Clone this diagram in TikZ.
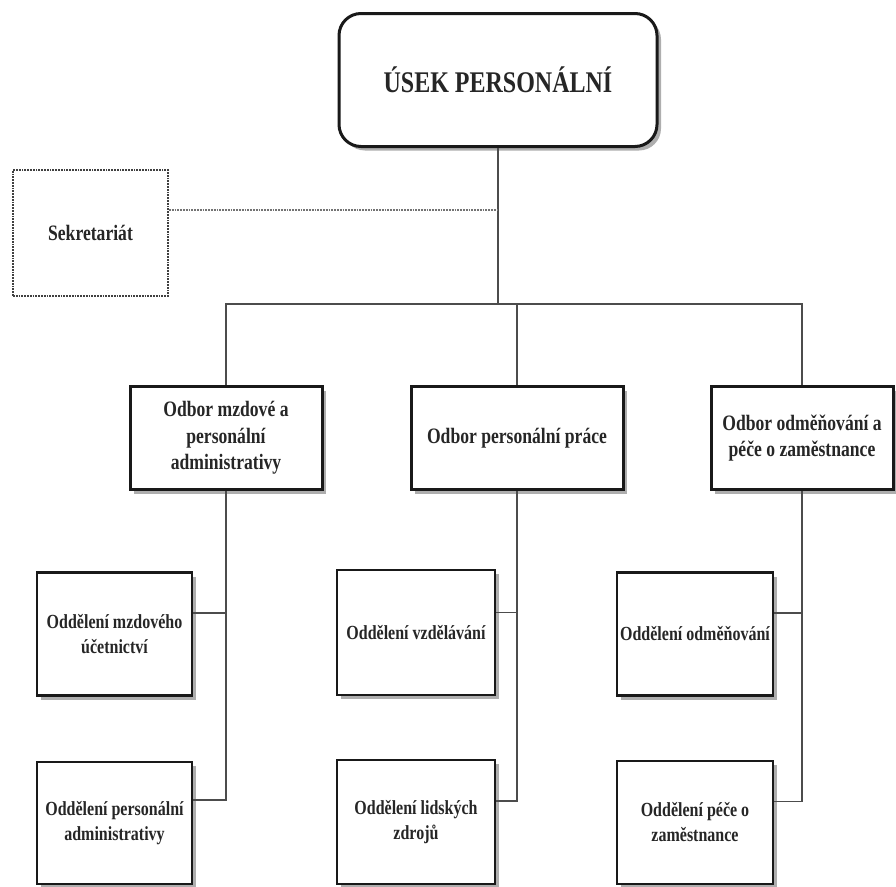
\documentclass[tikz,border=0pt]{standalone}
\usepackage{fontspec}
\setmainfont[FakeStretch=0.8]{Liberation Serif}
\usetikzlibrary{shadows}
\begin{document}
\begin{tikzpicture}[x=1pt,y=-1pt,
 every node/.style={text=black!85, align=center, inner sep=0pt},
 boxshadow/.style={drop shadow={shadow xshift=4pt,shadow yshift=-4pt,fill=black!45,opacity=0.7}},
 topbox/.style={draw=black!90, line width=3pt, rounded corners=22pt, fill=white, boxshadow, minimum width=318pt, minimum height=133pt, font=\bfseries\fontsize{30}{36}\selectfont},
 midbox/.style={draw=black!90, line width=3pt, fill=white, boxshadow, minimum height=103pt, font=\bfseries\fontsize{22}{26.5}\selectfont},
 lowbox/.style={draw=black!90, line width=2.2pt, fill=white, boxshadow, font=\bfseries\fontsize{20}{25}\selectfont},
 sekbox/.style={draw=black!75, line width=1.8pt, densely dotted, minimum width=155pt, minimum height=126pt, font=\bfseries\fontsize{22}{26.5}\selectfont},
 conn/.style={draw=black!70, line width=1.8pt},
 dotconn/.style={draw=black!55, line width=1.8pt, densely dotted}]
\useasboundingbox[fill=white] (0,0) rectangle (896,886);

% top
\node[topbox] (top) at (498,80) {ÚSEK PERSONÁLNÍ};
\node[sekbox] (sek) at (90.5,233) {Sekretariát};

% level 2
\node[midbox, minimum width=192pt] (l2a) at (226,438) {Odbor mzdové a\\personální\\administrativy};
\node[midbox, minimum width=212pt] (l2b) at (517,438) {Odbor personální práce};
\node[midbox, minimum width=182pt] (l2c) at (802,438) {Odbor odměňování a\\péče o zaměstnance};

% level 3
\node[lowbox, minimum width=155pt, minimum height=123pt] (a1) at (114.5,634) {Oddělení mzdového\\účetnictví};
\node[lowbox, minimum width=155pt, minimum height=122pt] (a2) at (114.5,823) {Oddělení personální\\administrativy};
\node[lowbox, minimum width=158pt, minimum height=125pt] (b1) at (416,632.5) {Oddělení vzdělávání};
\node[lowbox, minimum width=158pt, minimum height=124pt] (b2) at (416,822) {Oddělení lidských\\zdrojů};
\node[lowbox, minimum width=156pt, minimum height=123pt] (c1) at (695,634) {Oddělení odměňování};
\node[lowbox, minimum width=156pt, minimum height=123pt] (c2) at (695,822.5) {Oddělení péče o\\zaměstnance};

% connectors
\coordinate (bus) at (top.south |- 0,304);
\coordinate (dj) at (top.south |- 0,210);
\draw[conn] (top.south) -- (bus);
\draw[conn] (l2a.north) |- (bus) -| (l2c.north);
\draw[conn] (bus -| l2b.north) -- (l2b.north);
\draw[dotconn] (sek.east |- dj) -- (dj);

\draw[conn] (l2a.south) |- ([yshift=21pt]a1.east);
\draw[conn] (l2a.south) |- ([yshift=23pt]a2.east);
\draw[conn] (l2b.south) |- ([yshift=20pt]b1.east);
\draw[conn] (l2b.south) |- ([yshift=21pt]b2.east);
\draw[conn] (l2c.south) |- ([yshift=21pt]c1.east);
\draw[conn] (l2c.south) |- ([yshift=21pt]c2.east);
\end{tikzpicture}
\end{document}
